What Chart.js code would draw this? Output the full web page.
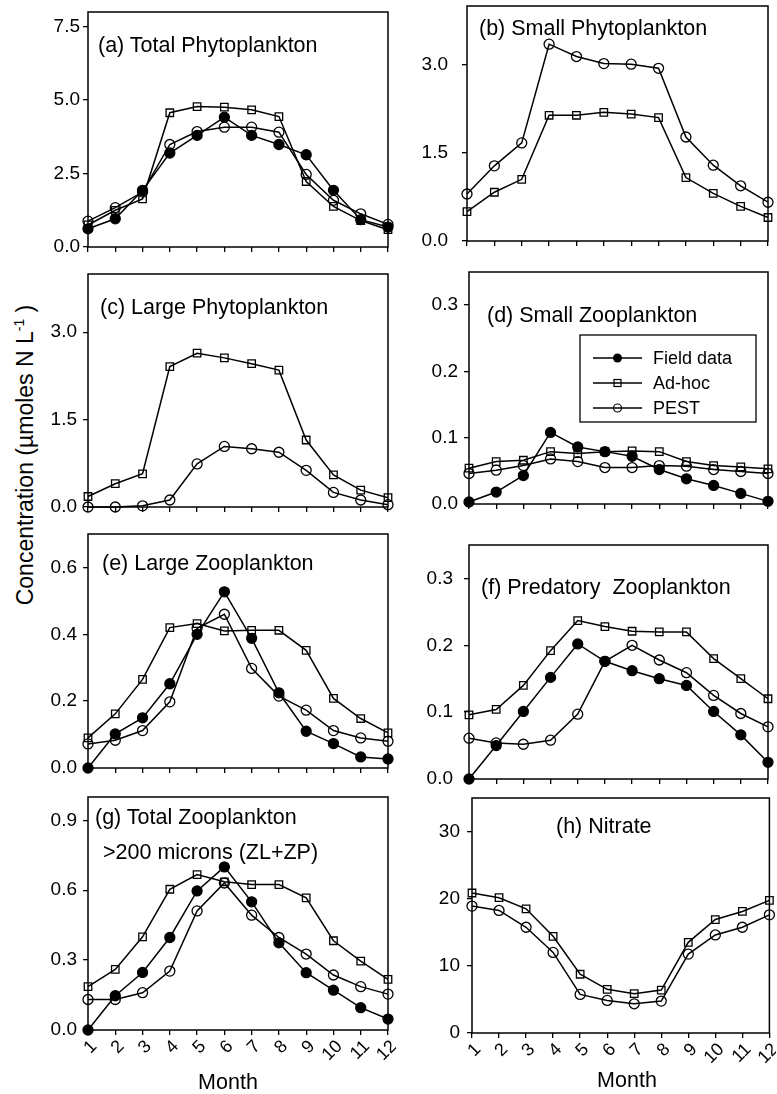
<!DOCTYPE html>
<html>
<head>
<meta charset="utf-8">
<script src="https://cdn.jsdelivr.net/npm/chart.js@4.4.0/dist/chart.umd.min.js"></script>
<style>
  body { margin: 0; background: #fff; width: 777px; height: 1094px; overflow: hidden; position: relative;
         font-family: "Liberation Sans", Arial, sans-serif; }
  canvas { position: absolute; }
  .lbl { position: absolute; white-space: pre; color: #000; font-size: 21.5px; line-height: 24px; }
  .ylab { position: absolute; left: 25px; top: 455px; white-space: nowrap; font-size: 23px;
          transform: translate(-50%, -50%) rotate(-90deg); }
  .ylab sup { font-size: 14px; }
</style>
</head>
<body>
<div class="ylab">Concentration (&micro;moles N L<sup>-1</sup> )</div>
<script>
const months = ['1', '2', '3', '4', '5', '6', '7', '8', '9', '10', '11', '12'];
const seriesNames = ['Field data', 'Ad-hoc', 'PEST'];

// (a) total phytoplankton
const totalPhytoField = [0.62, 0.96, 1.93, 3.20, 3.80, 4.42, 3.80, 3.49, 3.14, 1.93, 0.93, 0.68];
const totalPhytoAdhoc = [0.75, 1.25, 1.64, 4.57, 4.78, 4.76, 4.67, 4.44, 2.23, 1.38, 0.90, 0.59];
const totalPhytoPest  = [0.88, 1.34, 1.87, 3.49, 3.93, 4.08, 4.08, 3.91, 2.47, 1.59, 1.13, 0.77];
// (b) small phytoplankton
const smallPhytoAdhoc = [0.50, 0.83, 1.05, 2.14, 2.14, 2.19, 2.16, 2.10, 1.08, 0.81, 0.59, 0.40];
const smallPhytoPest  = [0.80, 1.28, 1.67, 3.35, 3.14, 3.02, 3.01, 2.94, 1.77, 1.29, 0.94, 0.66];
// (c) large phytoplankton
const largePhytoAdhoc = [0.18, 0.40, 0.57, 2.41, 2.64, 2.56, 2.46, 2.35, 1.15, 0.55, 0.29, 0.16];
const largePhytoPest  = [0.00, 0.00, 0.02, 0.12, 0.74, 1.04, 1.00, 0.94, 0.63, 0.25, 0.12, 0.04];
// (d) small zooplankton
const smallZooField = [0.003, 0.018, 0.043, 0.108, 0.086, 0.079, 0.072, 0.052, 0.038, 0.028, 0.016, 0.004];
const smallZooAdhoc = [0.054, 0.064, 0.066, 0.079, 0.076, 0.079, 0.080, 0.079, 0.064, 0.058, 0.056, 0.053];
const smallZooPest  = [0.046, 0.051, 0.058, 0.068, 0.064, 0.055, 0.055, 0.058, 0.057, 0.052, 0.049, 0.046];
// (e) large zooplankton
const largeZooField = [0.000, 0.102, 0.150, 0.252, 0.400, 0.527, 0.388, 0.225, 0.110, 0.073, 0.033, 0.027];
const largeZooAdhoc = [0.090, 0.162, 0.265, 0.420, 0.432, 0.410, 0.412, 0.412, 0.352, 0.208, 0.148, 0.105];
const largeZooPest  = [0.072, 0.083, 0.112, 0.198, 0.418, 0.460, 0.298, 0.215, 0.173, 0.112, 0.090, 0.080];
// (f) predatory zooplankton
const predZooField = [0.000, 0.050, 0.101, 0.152, 0.202, 0.176, 0.162, 0.150, 0.140, 0.101, 0.066, 0.025];
const predZooAdhoc = [0.096, 0.104, 0.140, 0.192, 0.237, 0.228, 0.221, 0.220, 0.220, 0.180, 0.150, 0.120];
const predZooPest  = [0.061, 0.054, 0.052, 0.058, 0.097, 0.176, 0.200, 0.178, 0.159, 0.125, 0.098, 0.078];
// (g) total zooplankton
const totalZooField = [0.000, 0.147, 0.247, 0.397, 0.597, 0.700, 0.550, 0.374, 0.246, 0.171, 0.096, 0.047];
const totalZooAdhoc = [0.186, 0.260, 0.400, 0.604, 0.667, 0.636, 0.624, 0.624, 0.567, 0.383, 0.296, 0.217];
const totalZooPest  = [0.131, 0.131, 0.160, 0.253, 0.511, 0.631, 0.493, 0.397, 0.326, 0.236, 0.186, 0.154];
// (h) nitrate
const nitrateAdhoc = [20.85, 20.15, 18.5, 14.4, 8.75, 6.5, 5.85, 6.4, 13.5, 16.9, 18.1, 19.75];
const nitratePest  = [18.9, 18.25, 15.75, 12.0, 5.75, 4.85, 4.35, 4.75, 11.75, 14.6, 15.75, 17.6];

// y tick labels and axis tops
const ticksA = [0, 2.5, 5, 7.5], maxA = 8;
const ticksB = [0, 1.5, 3], maxB = 4;
const ticksC = [0, 1.5, 3], maxC = 4;
const ticksD = [0, 0.1, 0.2, 0.3], maxD = 0.35;
const ticksE = [0, 0.2, 0.4, 0.6], maxE = 0.7;
const ticksF = [0, 0.1, 0.2, 0.3], maxF = 0.35;
const ticksG = [0, 0.3, 0.6, 0.9], maxG = 1.0;
const ticksH = [0, 10, 20, 30], maxH = 35;

const FONT = '"Liberation Sans", Arial, sans-serif';

const panels = [
  { title: ['(a) Total Phytoplankton'], tx: [98], ty: [45], series: [totalPhytoField, totalPhytoAdhoc, totalPhytoPest],
    ticks: ticksA, max: maxA, dec: 1, box: [88, 12, 388, 247], pad: 3 },
  { title: ['(b) Small Phytoplankton'], tx: [479], ty: [28], series: [null, smallPhytoAdhoc, smallPhytoPest],
    ticks: ticksB, max: maxB, dec: 1, box: [467, 6, 768, 241], pad: 14 },
  { title: ['(c) Large Phytoplankton'], tx: [100], ty: [307], series: [null, largePhytoAdhoc, largePhytoPest],
    ticks: ticksC, max: maxC, dec: 1, box: [88, 274, 388, 507], pad: 6 },
  { title: ['(d) Small Zooplankton'], tx: [487], ty: [315], series: [smallZooField, smallZooAdhoc, smallZooPest],
    ticks: ticksD, max: maxD, dec: 1, box: [469, 272, 768, 504], pad: 6, legend: true },
  { title: ['(e) Large Zooplankton'], tx: [102], ty: [563], series: [largeZooField, largeZooAdhoc, largeZooPest],
    ticks: ticksE, max: maxE, dec: 1, box: [88, 534, 388, 768], pad: 6 },
  { title: ['(f) Predatory  Zooplankton'], tx: [481], ty: [587], series: [predZooField, predZooAdhoc, predZooPest],
    ticks: ticksF, max: maxF, dec: 1, box: [469, 545, 768, 779], pad: 11 },
  { title: ['(g) Total Zooplankton', '>200 microns (ZL+ZP)'], tx: [95, 103], ty: [817, 852],
    series: [totalZooField, totalZooAdhoc, totalZooPest],
    ticks: ticksG, max: maxG, dec: 1, box: [88, 797, 388, 1030], pad: 6, xlab: true, month: [228, 1082] },
  { title: ['(h) Nitrate'], tx: [556], ty: [826], series: [null, nitrateAdhoc, nitratePest],
    ticks: ticksH, max: maxH, dec: 0, box: [472, 798, 771, 1033], pad: 7, xlab: true, month: [627, 1080] }
];

const styles = [
  { pointStyle: 'circle', radius: 5, fill: '#000' },
  { pointStyle: 'rect', radius: 5.3, fill: 'rgba(0,0,0,0)' },
  { pointStyle: 'circle', radius: 5, fill: 'rgba(0,0,0,0)' }
];

const frame = {
  id: 'frame',
  beforeDatasetsDraw(chart) {
    const a = chart.chartArea, ctx = chart.ctx;
    ctx.save();
    ctx.strokeStyle = '#000';
    ctx.lineWidth = 1.5;
    ctx.strokeRect(a.left, a.top, a.right - a.left, a.bottom - a.top);
    ctx.restore();
  }
};

const boxLegend = {
  id: 'boxLegend',
  afterDraw(chart, args, o) {
    if (!o.show) return;
    const ctx = chart.ctx, a = chart.chartArea;
    const x = a.left + 111, y = a.top + 63;
    ctx.save();
    ctx.strokeStyle = '#000';
    ctx.fillStyle = '#000';
    ctx.lineWidth = 1.3;
    ctx.strokeRect(x, y, 176, 87);
    ctx.font = '18px ' + FONT;
    ctx.textBaseline = 'middle';
    seriesNames.forEach((name, i) => {
      const ry = y + 23 + i * 25;
      ctx.lineWidth = 1.5;
      ctx.beginPath(); ctx.moveTo(x + 13, ry); ctx.lineTo(x + 62, ry); ctx.stroke();
      ctx.lineWidth = 1.2;
      const cx = x + 37.5;
      if (i === 0) { ctx.beginPath(); ctx.arc(cx, ry, 4.5, 0, Math.PI * 2); ctx.fill(); }
      else if (i === 1) { ctx.strokeRect(cx - 3.5, ry - 3.5, 7, 7); }
      else { ctx.beginPath(); ctx.arc(cx, ry, 4, 0, Math.PI * 2); ctx.stroke(); }
      ctx.fillText(name, x + 73, ry + 1);
    });
    ctx.restore();
  }
};

function addLabel(text, left, cy, center) {
  const d = document.createElement('div');
  d.className = 'lbl';
  d.textContent = text;
  d.style.top = (cy - 12) + 'px';
  d.style.left = left + 'px';
  if (center) d.style.transform = 'translateX(-50%)';
  document.body.appendChild(d);
}

panels.forEach(p => {
  const [l, t, r, b] = p.box;
  const yW = 60, tp = 8, rp = (r > 770 ? 5 : 8), bh = p.xlab ? 44 : 12;
  const cv = document.createElement('canvas');
  cv.width = yW + (r - l) + rp;
  cv.height = tp + (b - t) + bh;
  cv.style.left = (l - yW) + 'px';
  cv.style.top = (t - tp) + 'px';
  document.body.appendChild(cv);

  const datasets = [];
  p.series.forEach((vals, i) => {
    if (!vals) return;
    const s = styles[i];
    datasets.push({
      label: seriesNames[i],
      data: vals,
      borderColor: '#000',
      borderWidth: 1.5,
      tension: 0,
      clip: false,
      pointStyle: s.pointStyle,
      pointRadius: s.radius,
      pointBackgroundColor: s.fill,
      pointBorderColor: '#000',
      pointBorderWidth: 1.3
    });
  });

  const gridOpts = { display: true, drawOnChartArea: false, drawTicks: true, tickLength: 5, color: '#000', lineWidth: 1.3 };

  new Chart(cv, {
    type: 'line',
    data: { labels: months, datasets: datasets },
    options: {
      responsive: false,
      animation: false,
      devicePixelRatio: 1,
      layout: { padding: { top: tp, right: rp, left: 0, bottom: 0 } },
      plugins: { legend: { display: false }, tooltip: { enabled: false }, boxLegend: { show: !!p.legend } },
      scales: {
        x: {
          grid: gridOpts,
          border: { display: false },
          ticks: { display: !!p.xlab, autoSkip: false, minRotation: 45, maxRotation: 45, padding: 1, labelOffset: 6,
                   color: '#000', font: { size: 18, family: FONT } },
          afterFit: s => { s.height = bh; s.paddingLeft = 0; s.paddingRight = 0; }
        },
        y: {
          min: 0, max: p.max,
          grid: gridOpts,
          border: { display: false },
          afterBuildTicks: s => { s.ticks = p.ticks.map(v => ({ value: v })); },
          ticks: { padding: p.pad, color: '#000', font: { size: 19, family: FONT },
                   callback: v => p.dec ? v.toFixed(1) : String(v) },
          afterFit: s => { s.width = yW; s.paddingTop = 0; s.paddingBottom = 0; }
        }
      }
    },
    plugins: [frame, boxLegend]
  });

  p.title.forEach((txt, k) => addLabel(txt, p.tx[k], p.ty[k], false));
  if (p.month) addLabel('Month', p.month[0], p.month[1], true);
});
</script>
</body>
</html>
